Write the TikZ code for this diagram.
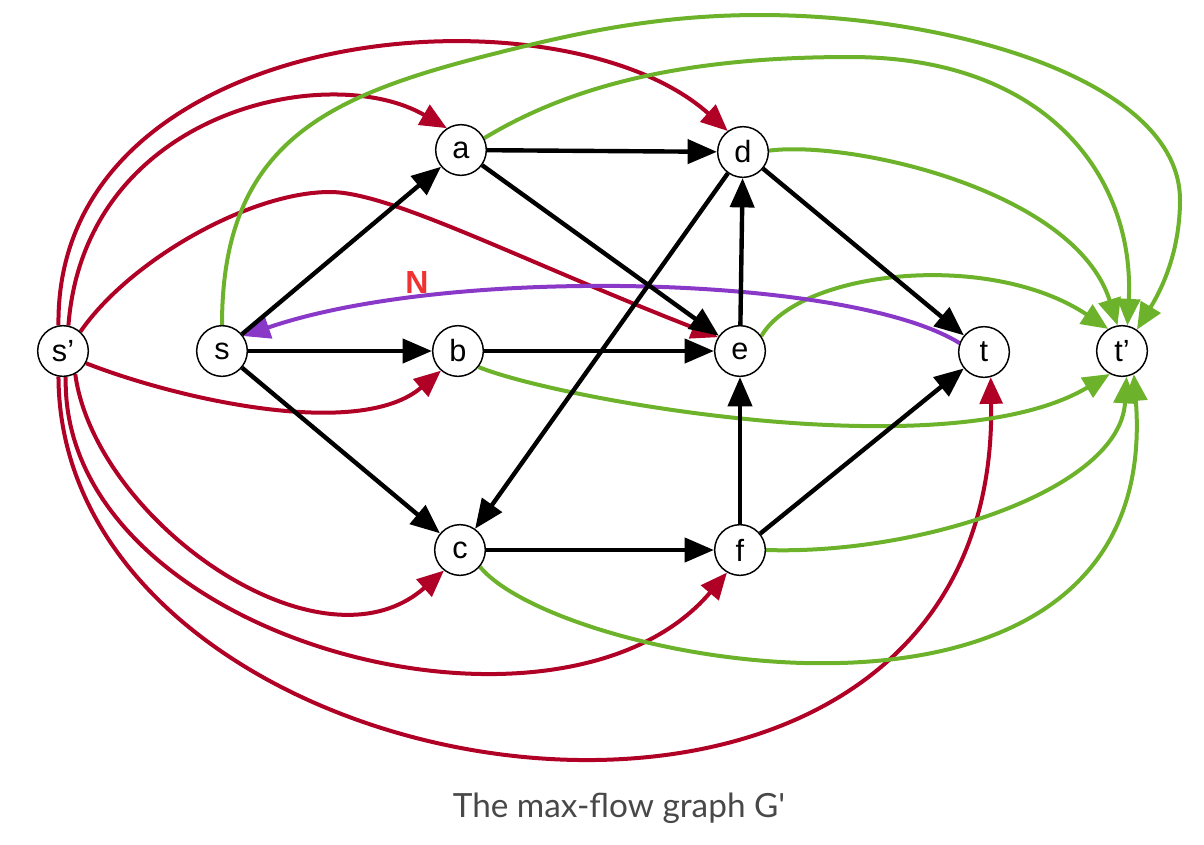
\documentclass[tikz,border=0pt]{standalone}
\usepackage{fontspec}
\setmainfont{Liberation Sans}
\newfontfamily\latofont{Lato}[Ligatures=TeXOff]
\usetikzlibrary{arrows.meta}
\definecolor{fred}{RGB}{176,0,38}
\definecolor{fgreen}{RGB}{108,178,42}
\definecolor{fpurple}{RGB}{138,56,200}
\definecolor{nred}{RGB}{240,50,50}
\definecolor{capgray}{RGB}{72,72,72}
\pgfdeclarelayer{bg}
\pgfsetlayers{bg,main}
\tikzset{
  vtx/.style={circle,draw=black,line width=1.1pt,fill=white,minimum size=38pt,inner sep=0pt,font=\fontsize{23}{23}\selectfont},
  blk/.style={draw=black,line width=3.3pt,-{Triangle[length=22pt,width=18pt]}},
  redE/.style={draw=fred,line width=3pt,-{Triangle[length=20pt,width=17pt]}},
  grnE/.style={draw=fgreen,line width=3pt,-{Triangle[length=20pt,width=17pt]}},
  purE/.style={draw=fpurple,line width=3pt,-{Triangle[length=20pt,width=17pt]}},
}
\begin{document}
\begin{tikzpicture}[x=0.75pt,y=-0.75pt]
\useasboundingbox (0,0) rectangle (1204,844);
\node[vtx] (sp) at (63,351) {s’};
\node[vtx] (s) at (222,351) {s};
\node[vtx] (a) at (461,150) {a};
\node[vtx] (b) at (458,351) {b};
\node[vtx] (c) at (460,550) {c};
\node[vtx] (d) at (743,152) {d};
\node[vtx] (e) at (740,351) {e};
\node[vtx] (f) at (740,550) {f};
\node[vtx] (t) at (984,352) {t};
\node[vtx] (tp) at (1122,351) {t’};
\begin{pgfonlayer}{bg}
% red
\draw[redE] (sp.100) .. controls (55,20) and (560,-20) .. (d.126);
\draw[redE] (sp.78) .. controls (85,110) and (330,60) .. (a.123);
\draw[redE] (sp.48) .. controls (130,260) and (250,192) .. (330,192) .. controls (390,192) and (520,260) .. (e.148);
\draw[redE] (sp.-28) .. controls (180,400) and (360,440) .. (b.-131);
\draw[redE] (sp.-62) .. controls (95,520) and (320,680) .. (c.-128);
\draw[redE] (sp.-84) .. controls (60,640) and (560,770) .. (f.-120);
\draw[redE] (sp.-100) .. controls (60,810) and (1000,950) .. (t.-75);
% green
\draw[grnE] (s.90) .. controls (222,140) and (330,95) .. (497,53) .. controls (580,32) and (660,15) .. (760,15) .. controls (950,15) and (1180,80) .. (1180,200) .. controls (1180,260) and (1155,300) .. (tp.55);
\draw[grnE] (a.27) .. controls (580,80) and (700,57) .. (850,57) .. controls (1050,57) and (1135,180) .. (tp.78);
\draw[grnE] (d.3) .. controls (850,140) and (1075,190) .. (tp.100);
\draw[grnE] (e.35) .. controls (800,270) and (990,250) .. (tp.122);
\draw[grnE] (b.-38) .. controls (560,400) and (950,470) .. (tp.-118);
\draw[grnE] (f.0) .. controls (920,555) and (1120,490) .. (tp.-80);
\draw[grnE] (c.-40) .. controls (560,665) and (1165,780) .. (tp.-63);
% purple
\draw[purE] (t.160) .. controls (850,275) and (450,265) .. (s.35);
% black
\draw[blk] (s) -- (a);
\draw[blk] (s) -- (b);
\draw[blk] (s) -- (c);
\draw[blk] (a) -- (d);
\draw[blk] (a) -- (e);
\draw[blk] (b) -- (e);
\draw[blk] (c) -- (f);
\draw[blk] (d) -- (c);
\draw[blk] (d) -- (t);
\draw[blk] (e) -- (d);
\draw[blk] (f) -- (e);
\draw[blk] (f) -- (t);
\end{pgfonlayer}
\node[text=nred,font=\bfseries\fontsize{24}{24}\selectfont] (N) at (417,282) {N};
\node[text=capgray,font=\latofont\fontsize{25}{25}\selectfont] (cap) at (619,808) {The max-flow graph G'};
\end{tikzpicture}
\end{document}
